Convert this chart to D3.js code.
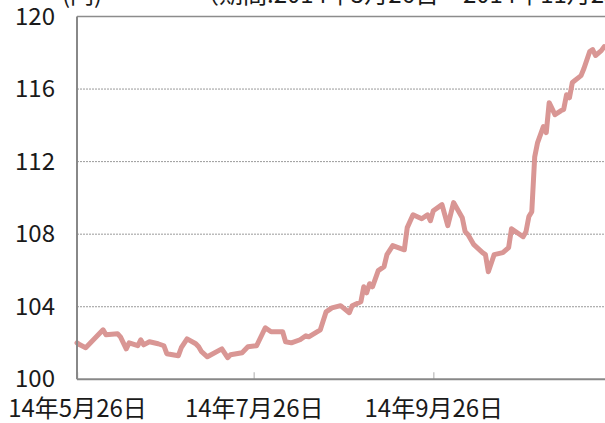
<html>
<head>
<meta charset="utf-8">
<script src="https://d3js.org/d3.v7.min.js"></script>
<style>
  body { margin: 0; background: #fff; }
  text { font-family: "Noto Sans CJK JP", "Noto Sans", sans-serif; fill: #1a1a1a; }
</style>
</head>
<body>
<div id="chart"></div>
<script>
// USD/JPY style series
var dates = ["2014-05-26","2014-05-27","2014-05-29","2014-06-01","2014-06-04","2014-06-05","2014-06-09","2014-06-10",
  "2014-06-12","2014-06-13","2014-06-16","2014-06-17","2014-06-18","2014-06-20","2014-06-23","2014-06-25",
  "2014-06-26","2014-06-30","2014-07-01","2014-07-03","2014-07-06","2014-07-07","2014-07-08","2014-07-10",
  "2014-07-15","2014-07-17","2014-07-18","2014-07-22","2014-07-24","2014-07-27","2014-07-30","2014-08-01",
  "2014-08-05","2014-08-06","2014-08-08","2014-08-11","2014-08-13","2014-08-14","2014-08-18","2014-08-20",
  "2014-08-22","2014-08-25","2014-08-28","2014-08-29","2014-09-01","2014-09-02","2014-09-03","2014-09-04",
  "2014-09-05","2014-09-07","2014-09-09","2014-09-10","2014-09-12","2014-09-16","2014-09-17","2014-09-19",
  "2014-09-22","2014-09-24","2014-09-25","2014-09-26","2014-09-29","2014-10-01","2014-10-03","2014-10-06",
  "2014-10-07","2014-10-08","2014-10-10","2014-10-13","2014-10-14","2014-10-15","2014-10-17","2014-10-20",
  "2014-10-22","2014-10-23","2014-10-27","2014-10-28","2014-10-29","2014-10-30","2014-10-31","2014-11-01",
  "2014-11-03","2014-11-04","2014-11-05","2014-11-07","2014-11-09","2014-11-10","2014-11-11","2014-11-12",
  "2014-11-13","2014-11-16","2014-11-17","2014-11-19","2014-11-20","2014-11-21","2014-11-23","2014-11-24"];

var rates = [102.01,101.90,101.74,102.23,102.73,102.46,102.51,102.34,
  101.68,102.01,101.85,102.18,101.90,102.07,101.96,101.85,
  101.41,101.30,101.74,102.23,101.96,101.79,101.52,101.24,
  101.68,101.19,101.35,101.46,101.79,101.85,102.84,102.62,
  102.62,102.07,102.01,102.18,102.40,102.34,102.73,103.72,
  103.94,104.06,103.67,104.06,104.28,105.10,104.77,105.27,
  105.10,105.99,106.21,106.87,107.37,107.14,108.36,109.07,
  108.85,109.07,108.74,109.29,109.63,108.47,109.74,108.91,
  108.14,107.97,107.42,106.98,106.87,105.93,106.87,106.98,
  107.26,108.30,107.86,108.14,108.97,109.24,112.25,113.05,
  113.93,113.60,115.25,114.59,114.80,114.87,115.69,115.52,
  116.36,116.74,117.13,118.07,118.18,117.85,118.12,118.34];

var yTicks = [100, 104, 108, 112, 116, 120];
var xTicks = ["2014-05-26", "2014-07-26", "2014-09-26"];
var xTickLabels = ["14年5月26日", "14年7月26日", "14年9月26日"];
var xDomain = ["2014-05-26", "2014-11-26"];

var parse = d3.timeParse("%Y-%m-%d");
var data = dates.map(function(d, i) { return { date: parse(d), value: rates[i] }; });

var W = 605, H = 423;
var margin = { top: 16.5, right: -5, bottom: 43.7, left: 77 };

var svg = d3.select("#chart").append("svg")
  .attr("width", W)
  .attr("height", H)
  .style("display", "block");

var x = d3.scaleTime().domain(xDomain.map(parse)).range([margin.left, W - margin.right]);
var y = d3.scaleLinear().domain([100, 120]).range([H - margin.bottom, margin.top]);

// dotted gridlines
svg.append("g").selectAll("line")
  .data(yTicks.filter(function(d) { return d > 100 && d < 120; }))
  .enter().append("line")
  .attr("x1", margin.left).attr("x2", W)
  .attr("y1", function(d) { return y(d); })
  .attr("y2", function(d) { return y(d); })
  .attr("stroke", "#9a9a9a")
  .attr("stroke-width", 1)
  .attr("stroke-dasharray", "2,1");

// top border line at 120
svg.append("line")
  .attr("x1", margin.left).attr("x2", W)
  .attr("y1", y(120)).attr("y2", y(120))
  .attr("stroke", "#8c8c8c").attr("stroke-width", 1.5);

// x axis ticks (inward)
var xAxis = d3.axisBottom(x)
  .tickValues(xTicks.map(parse))
  .tickSize(-7)
  .tickFormat(function(d, i) { return xTickLabels[i]; });

var gx = svg.append("g")
  .attr("transform", "translate(0," + y(100) + ")")
  .call(xAxis);
gx.select(".domain").remove();
gx.selectAll(".tick line").attr("stroke", "#c8c8c8").attr("stroke-width", 1.5);
gx.selectAll(".tick text")
  .attr("y", 38)
  .attr("dy", 0)
  .style("font-size", "24px")
  .style("font-family", "'Noto Sans CJK JP', sans-serif")
  .attr("fill", "#1a1a1a");

// y labels
var yAxis = d3.axisLeft(y).tickValues(yTicks).tickSize(0).tickPadding(22);
var gy = svg.append("g")
  .attr("transform", "translate(" + margin.left + ",0)")
  .call(yAxis);
gy.select(".domain").remove();
gy.selectAll(".tick text")
  .style("font-size", "24px")
  .style("font-family", "'Noto Sans CJK JP', sans-serif")
  .attr("fill", "#1a1a1a");

// price line
var line = d3.line()
  .x(function(d) { return x(d.date); })
  .y(function(d) { return y(d.value); });

svg.append("path")
  .datum(data)
  .attr("d", line)
  .attr("fill", "none")
  .attr("stroke", "#d99694")
  .attr("stroke-width", 5)
  .attr("stroke-linejoin", "round")
  .attr("stroke-linecap", "round");

// axes frame: left and bottom
svg.append("line")
  .attr("x1", margin.left).attr("x2", margin.left)
  .attr("y1", y(120)).attr("y2", y(100))
  .attr("stroke", "#888").attr("stroke-width", 2);
svg.append("line")
  .attr("x1", margin.left).attr("x2", W)
  .attr("y1", y(100)).attr("y2", y(100))
  .attr("stroke", "#888").attr("stroke-width", 2);

// unit and period labels (cut off at top edge)
svg.append("text")
  .attr("x", 62).attr("y", 3)
  .style("font-size", "24px")
  .text("(円)");

svg.append("text")
  .attr("x", 195).attr("y", 3)
  .style("font-size", "24px")
  .text("（期間:2014年5月26日～2014年11月25日）");
</script>
</body>
</html>
